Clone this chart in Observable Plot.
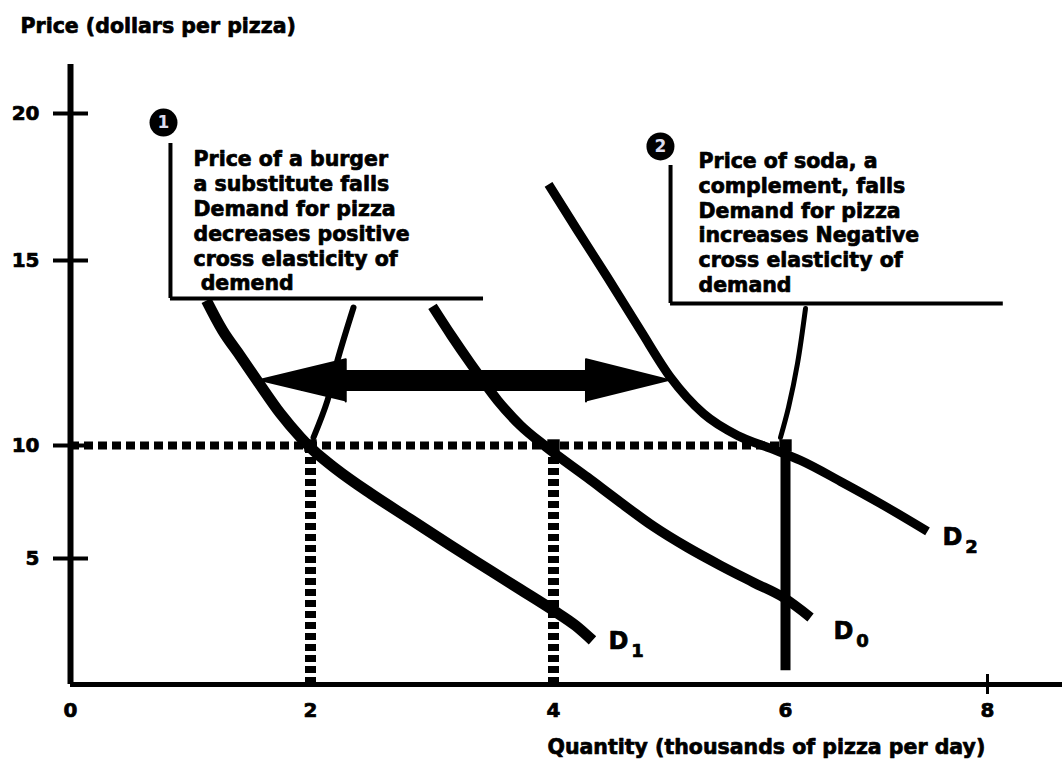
<!DOCTYPE html>
<html>
<head>
<meta charset="utf-8">
<script src="https://cdn.jsdelivr.net/npm/d3@7"></script>
<script src="https://cdn.jsdelivr.net/npm/@observablehq/plot@0.6"></script>
<style>
  html, body { margin: 0; padding: 0; background: #fff; }
  #chart svg { display: block; }
</style>
</head>
<body>
<div id="chart"></div>
<script>
// ---------- data ----------
const xTicks = [0, 2, 4, 6, 8];
const yTicks = [5, 10, 15, 20];

// Demand curves: quantity (thousands of pizza per day) / price (dollars)
const d1Quantity = [1.133, 1.267, 1.417, 1.567, 1.75, 1.917, 2.016, 2.206, 2.494, 2.823, 3.152, 3.481, 3.728, 4.0, 4.19, 4.336];
const d1Price    = [13.92, 13.11, 12.41, 11.70, 10.86, 10.22, 9.82, 8.98, 7.88, 6.73, 5.58, 4.52, 3.77, 2.94, 2.34, 1.75];

const d0Quantity = [3.004, 3.160, 3.317, 3.539, 3.728, 3.934, 4.293, 4.578, 4.862, 5.155, 5.44, 5.724, 5.983, 6.248];
const d0Price    = [13.76, 12.97, 12.22, 11.22, 10.54, 9.96, 8.58, 7.48, 6.42, 5.49, 4.72, 4.05, 3.45, 2.66];

const d2Quantity = [3.959, 4.207, 4.466, 4.75, 5.009, 5.293, 5.586, 5.871, 6.149, 6.545, 6.941, 7.406];
const d2Price    = [17.59, 16.02, 14.54, 13.11, 11.84, 10.86, 10.27, 9.87, 9.34, 8.41, 7.43, 6.20];

// Connector strokes from the notes to the new equilibria
const conn1Quantity = [2.354, 2.222, 2.140, 2.025];
const conn1Price    = [13.73, 12.30, 11.22, 10.22];
const conn2Quantity = [6.198, 6.119, 6.03, 5.957];
const conn2Price    = [13.70, 12.22, 11.03, 10.22];

// Equilibrium price and quantities
const eqPrice = 10;
const eqQuantities = [2, 4, 6];
const dottedQuantities = [2, 4];
const solidQuantity = [6];
const solidPriceRange = [0.55, 9.6];

// Double arrow (demand shifts)
const arrowQuantity = [1.56, 5.01];
const arrowPrice = 11.76;
const arrowHeadQ = 0.73;
const arrowHeadP = 0.57;

// Curve labels
const curveName   = ["D", "D", "D"];
const curveSub    = ["1", "0", "2"];
const curveLabelQ = [4.56, 6.574, 7.653];
const curveLabelP = [1.71, 2.10, 5.93];

// Notes
const badgeLabel = ["1", "2"];
const badgeQ = [0.775, 4.922];
const badgeP = [19.69, 18.88];
const bracketQ = [0.833, 5.009];
const bracketTop = [18.98, 18.23];
const bracketBottom = [13.97, 13.84];
const bracketEnd = [3.424, 8.158];
const noteQ = [1.025, 5.25];
const noteP = [16.36, 16.31];
const noteText = [
  "Price of a burger\na substitute falls\nDemand for pizza\ndecreases positive\ncross elasticity of\n demend",
  "Price of soda, a\ncomplement, falls\nDemand for pizza\nincreases Negative\ncross elasticity of\ndemand"
];

const yTitle = "Price (dollars per pizza)";
const xTitle = "Quantity (thousands of pizza per day)";

// ---------- tables built from the arrays ----------
const curve = (qs, ps) => qs.map((q, i) => ({q, p: ps[i]}));
const d1 = curve(d1Quantity, d1Price);
const d0 = curve(d0Quantity, d0Price);
const d2 = curve(d2Quantity, d2Price);
const conn1 = curve(conn1Quantity, conn1Price);
const conn2 = curve(conn2Quantity, conn2Price);

const [aFrom, aTo] = arrowQuantity;
const heads = [
  {h: "L", q: aFrom, p: arrowPrice},
  {h: "L", q: aFrom + arrowHeadQ, p: arrowPrice + arrowHeadP},
  {h: "L", q: aFrom + arrowHeadQ, p: arrowPrice - arrowHeadP},
  {h: "R", q: aTo, p: arrowPrice},
  {h: "R", q: aTo - arrowHeadQ, p: arrowPrice + arrowHeadP},
  {h: "R", q: aTo - arrowHeadQ, p: arrowPrice - arrowHeadP}
];

const labels = curveName.map((n, i) => ({n, s: curveSub[i], q: curveLabelQ[i], p: curveLabelP[i]}));
const badges = badgeLabel.map((b, i) => ({b, q: badgeQ[i], p: badgeP[i]}));
const brackets = bracketQ.map((q, i) => ({q, top: bracketTop[i], bottom: bracketBottom[i], end: bracketEnd[i]}));
const notes = noteText.map((t, i) => ({t, q: noteQ[i], p: noteP[i]}));

const FONT = "DejaVu Sans";
const heavy = {fontWeight: "bold", fill: "black", stroke: "black", strokeWidth: 0.7};

const chart = Plot.plot({
  width: 1062,
  height: 767,
  marginLeft: 70,
  marginRight: 0,
  marginTop: 64,
  marginBottom: 83,
  x: {type: "linear", domain: [0, 2, 4, 6, 8, 8.75], range: [70, 310, 553, 785, 987, 1062]},
  y: {type: "linear", domain: [0, 5, 10, 15, 20, 21.67], range: [684, 558, 445, 260, 113, 64]},
  style: {fontFamily: FONT, fontWeight: "bold", fontSize: "20.5px", color: "black", background: "white"},
  marks: [
    // axes lines
    Plot.ruleX([0], {stroke: "black", strokeWidth: 6}),
    Plot.ruleY([0], {stroke: "black", strokeWidth: 5}),
    // tick marks
    Plot.axisY(yTicks, {anchor: "left", tickSize: 35, dx: 18, strokeWidth: 4, fill: "none", label: null}),
    Plot.axisX([8], {anchor: "bottom", tickSize: 20, dy: -10, strokeWidth: 3, fill: "none", label: null}),
    // tick labels
    Plot.text(yTicks, {y: d => d, text: d => String(d), frameAnchor: "left", textAnchor: "end", dx: -31, fontSize: 20, ...heavy}),
    Plot.text(xTicks, {x: d => d, text: d => String(d), frameAnchor: "bottom", dy: 32, fontSize: 20, ...heavy}),
    // axis titles
    Plot.text([yTitle], {frameAnchor: "top-left", dx: -50, dy: -46, textAnchor: "start", fontSize: 20.5, ...heavy}),
    Plot.text([xTitle], {frameAnchor: "bottom-left", dx: 477, dy: 69, textAnchor: "start", fontSize: 20.5, ...heavy}),

    // dotted equilibrium guides
    Plot.ruleY([eqPrice], {x1: 0, x2: eqQuantities[2], stroke: "black", strokeWidth: 8, strokeDasharray: "9,5"}),
    Plot.ruleX(dottedQuantities, {y1: 0, y2: eqPrice, stroke: "black", strokeWidth: 11, strokeDasharray: "7,4"}),
    Plot.ruleX(solidQuantity, {y1: solidPriceRange[0], y2: solidPriceRange[1], stroke: "black", strokeWidth: 10}),

    // demand curves
    Plot.line(d1, {x: "q", y: "p", stroke: "black", strokeWidth: 11, curve: "monotone-x", strokeLinecap: "butt"}),
    Plot.line(d0, {x: "q", y: "p", stroke: "black", strokeWidth: 10, curve: "monotone-x", strokeLinecap: "butt"}),
    Plot.line(d2, {x: "q", y: "p", stroke: "black", strokeWidth: 9, curve: "monotone-x", strokeLinecap: "butt"}),

    // connectors
    Plot.line(conn1, {x: "q", y: "p", stroke: "black", strokeWidth: 6, curve: "catmull-rom"}),
    Plot.line(conn2, {x: "q", y: "p", stroke: "black", strokeWidth: 5, curve: "catmull-rom"}),

    // equilibrium blobs
    Plot.dot(eqQuantities, {x: d => d, y: () => eqPrice, symbol: "square", r: 7, fill: "black", stroke: null}),

    // double arrow
    Plot.ruleY([arrowPrice], {x1: aFrom + arrowHeadQ * 0.5, x2: aTo - arrowHeadQ * 0.5, stroke: "black", strokeWidth: 21}),
    Plot.line(heads, {x: "q", y: "p", z: "h", fill: "black", stroke: "black", strokeWidth: 2}),

    // curve labels
    Plot.text(labels, {x: "q", y: "p", text: "n", fontSize: 24, ...heavy}),
    Plot.text(labels, {x: "q", y: "p", text: "s", fontSize: 18, dx: 19, dy: 10, ...heavy}),

    // note brackets
    Plot.ruleX(brackets, {x: "q", y1: "top", y2: "bottom", stroke: "black", strokeWidth: 4}),
    Plot.ruleY(brackets, {y: "bottom", x1: "q", x2: "end", stroke: "black", strokeWidth: 4}),

    // badges
    Plot.dot(badges, {x: "q", y: "p", r: 14, fill: "black", stroke: null}),
    Plot.text(badges, {x: "q", y: "p", text: "b", fill: "#dde", fontSize: 17, fontWeight: "bold"}),

    // note texts
    Plot.text(notes, {x: "q", y: "p", text: "t", textAnchor: "start", lineAnchor: "middle", lineHeight: 1.21, fontSize: 20.5, ...heavy})
  ]
});

document.getElementById("chart").appendChild(chart);
</script>
</body>
</html>
